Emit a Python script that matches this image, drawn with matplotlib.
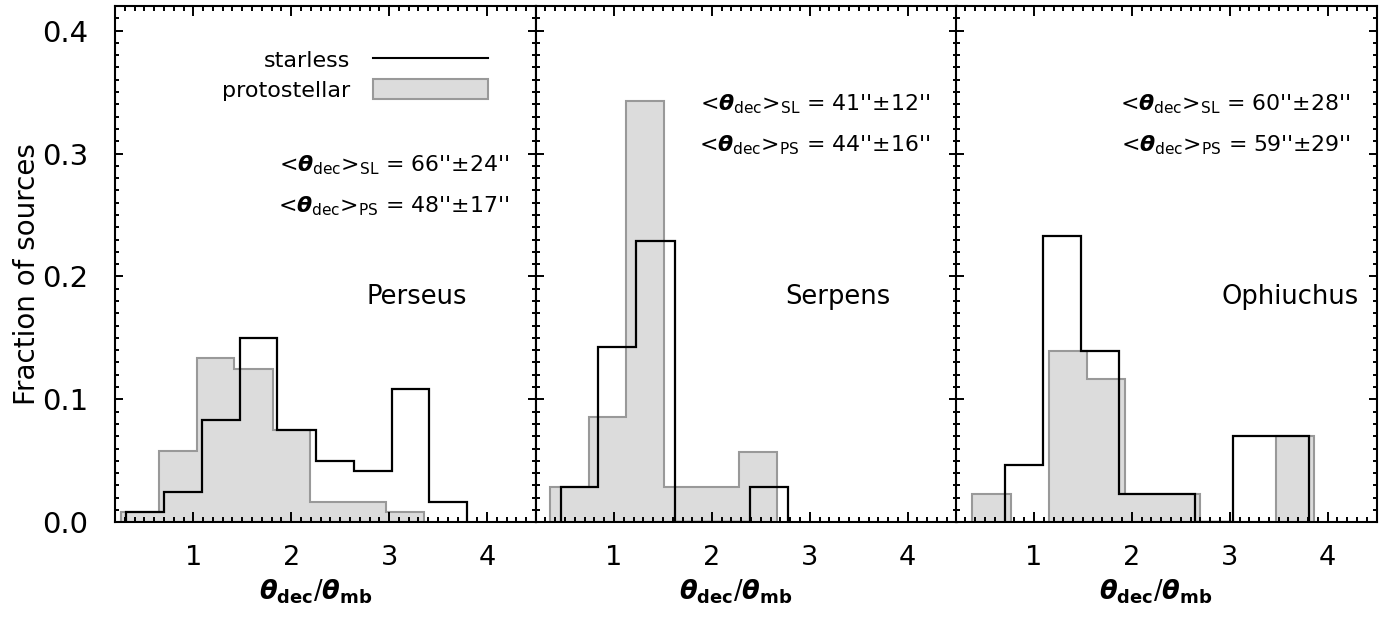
import matplotlib.pyplot as plt
from matplotlib.lines import Line2D
from matplotlib.patches import Patch
from matplotlib.ticker import MultipleLocator

plt.rcParams['font.family'] = ['DejaVu Sans']
plt.rcParams['mathtext.fontset'] = 'custom'
plt.rcParams['mathtext.rm'] = 'DejaVu Sans'
plt.rcParams['mathtext.it'] = 'DejaVu Sans:italic:bold'
plt.rcParams['mathtext.bf'] = 'DejaVu Sans:bold'

# bin edges / fractions
perseus_sl_edges = [0.31, 0.70, 1.09, 1.48, 1.86, 2.25, 2.64, 3.03, 3.41, 3.80]
perseus_sl_frac = [0.0083, 0.025, 0.0833, 0.15, 0.075, 0.05, 0.0417, 0.1083, 0.0167]
perseus_ps_edges = [0.26, 0.65, 1.04, 1.42, 1.81, 2.19, 2.58, 2.97, 3.36]
perseus_ps_frac = [0.0083, 0.0583, 0.1333, 0.125, 0.075, 0.0167, 0.0167, 0.0083]

serpens_sl_edges = [0.46, 0.84, 1.23, 1.62, 2.00, 2.39, 2.78]
serpens_sl_frac = [0.0286, 0.1429, 0.2286, 0.0, 0.0, 0.0286]
serpens_ps_edges = [0.35, 0.74, 1.12, 1.51, 1.90, 2.28, 2.67]
serpens_ps_frac = [0.0286, 0.0857, 0.3429, 0.0286, 0.0286, 0.0571]

ophiuchus_sl_edges = [0.70, 1.09, 1.48, 1.87, 2.26, 2.64, 3.03, 3.42, 3.81]
ophiuchus_sl_frac = [0.0465, 0.2326, 0.1395, 0.0233, 0.0233, 0.0, 0.0698, 0.0698]
ophiuchus_ps_edges = [0.37, 0.77, 1.15, 1.54, 1.93, 2.31, 2.70, 3.09, 3.47, 3.86]
ophiuchus_ps_frac = [0.0233, 0.0, 0.1395, 0.1163, 0.0233, 0.0233, 0.0, 0.0, 0.0698]

regions = ['Perseus', 'Serpens', 'Ophiuchus']
sl_mean = [66, 41, 60]
sl_err = [24, 12, 28]
ps_mean = [48, 44, 59]
ps_err = [17, 16, 29]

panels = [
    (perseus_sl_edges, perseus_sl_frac, perseus_ps_edges, perseus_ps_frac),
    (serpens_sl_edges, serpens_sl_frac, serpens_ps_edges, serpens_ps_frac),
    (ophiuchus_sl_edges, ophiuchus_sl_frac, ophiuchus_ps_edges, ophiuchus_ps_frac),
]

fill_col = '#dcdcdc'
edge_col = '#999999'

fig = plt.figure(figsize=(13.87, 6.17), dpi=100)
lefts = [0.0829, 0.3862, 0.6890]
anno_y = [0.679, 0.797, 0.797]
name_x = [2.77, 2.75, 2.92]

for i, (sl_e, sl_f, ps_e, ps_f) in enumerate(panels):
    ax = fig.add_axes([lefts[i], 0.1535, 0.3035, 0.8368])
    ax.stairs(ps_f, ps_e, fill=True, facecolor=fill_col, edgecolor=edge_col, linewidth=1.5)
    ax.stairs(sl_f, sl_e, color='black', linewidth=1.6)
    ax.set_xlim(0.2, 4.5)
    ax.set_ylim(0, 0.42)
    ax.xaxis.set_major_locator(MultipleLocator(1))
    ax.xaxis.set_minor_locator(MultipleLocator(0.1))
    ax.yaxis.set_major_locator(MultipleLocator(0.1))
    ax.yaxis.set_minor_locator(MultipleLocator(0.01))
    ax.tick_params(which='both', direction='in', top=True, right=True, width=1.4)
    ax.tick_params(axis='x', which='major', length=7.5, labelsize=19.5, pad=16)
    ax.tick_params(axis='x', which='minor', length=3.5)
    ax.tick_params(axis='y', which='major', length=6, labelsize=21, pad=19)
    ax.tick_params(axis='y', which='minor', length=3)
    ax.set_xticks([1, 2, 3, 4])
    for s in ax.spines.values():
        s.set_linewidth(1.5)
    if i == 0:
        ax.set_yticks([0.0, 0.1, 0.2, 0.3, 0.4])
        ax.set_yticklabels(['0.0', '0.1', '0.2', '0.3', '0.4'])
        ax.set_ylabel('Fraction of sources', fontsize=20)
        ax.yaxis.set_label_coords(-0.175, 0.48)
        handles = [Line2D([], [], color='black', linewidth=1.5),
                   Patch(facecolor=fill_col, edgecolor=edge_col, linewidth=1.5)]
        ax.legend(handles, ['starless', 'protostellar'], loc='upper right',
                  bbox_to_anchor=(0.887, 0.916), markerfirst=False, frameon=False,
                  fontsize=16, handlelength=5.2, handleheight=0.95,
                  labelspacing=0.4, borderpad=0, borderaxespad=0, handletextpad=1.0)
    else:
        ax.set_yticklabels([])
    ax.set_xlabel(r'$\theta_{\mathbf{dec}}/\theta_{\mathbf{mb}}$', fontsize=18.5, labelpad=5)
    ax.xaxis.label.set_x(0.476)
    ax.text(0.937, anno_y[i],
            r'<$\theta_{\rm dec}$>$_{\rm SL}$ = ' + f"{sl_mean[i]}''±{sl_err[i]}''",
            transform=ax.transAxes, ha='right', va='baseline', fontsize=15.8)
    ax.text(0.937, anno_y[i] - 0.079,
            r'<$\theta_{\rm dec}$>$_{\rm PS}$ = ' + f"{ps_mean[i]}''±{ps_err[i]}''",
            transform=ax.transAxes, ha='right', va='baseline', fontsize=15.8)
    ax.text(name_x[i], 0.183, regions[i], ha='left', va='center', fontsize=18.5)

fig.savefig('out.png', dpi=100)
